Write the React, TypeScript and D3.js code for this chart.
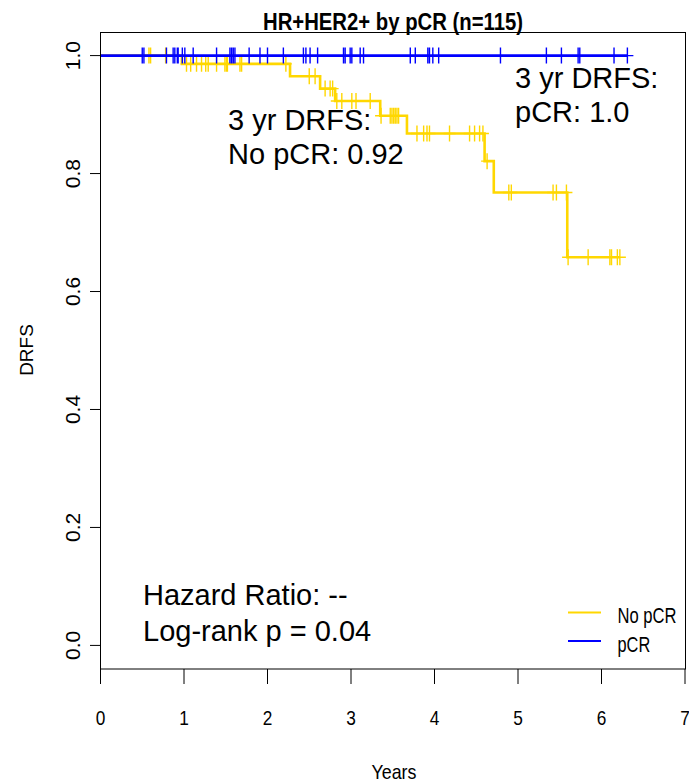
import React from "react";
import * as d3 from "d3";

// ---- data ----
const xTicks = [0, 1, 2, 3, 4, 5, 6, 7];
const yTicks = [0, 0.2, 0.4, 0.6, 0.8, 1.0];
const yTickLabels = ["0.0", "0.2", "0.4", "0.6", "0.8", "1.0"];

// No pCR (yellow) Kaplan-Meier events
const noPcrEventTimes = [0.975, 2.27, 2.63, 2.81, 3.35, 3.67, 4.6, 4.71, 5.59];
const noPcrSurvival = [0.986, 0.965, 0.944, 0.923, 0.898, 0.868, 0.821, 0.768, 0.658];
const noPcrCensorTimes = [
  0.58, 0.6, 0.78,
  1.03, 1.08, 1.15, 1.21, 1.26, 1.29, 1.39, 1.49, 1.51, 1.52, 1.67, 1.69, 2.22,
  2.5, 2.57,
  2.69, 2.75, 2.78,
  2.83, 2.89, 3.01, 3.06, 3.23,
  3.36, 3.47, 3.49, 3.51, 3.53, 3.55, 3.57,
  3.79, 3.87, 3.91, 3.94, 4.18, 4.42, 4.48, 4.54, 4.58,
  4.63,
  4.89, 4.92, 5.42, 5.46, 5.58,
  5.6, 5.84, 6.1, 6.12, 6.19, 6.22,
];

// pCR (blue): no events
const pcrEventTimes: number[] = [];
const pcrSurvival: number[] = [];
const pcrCensorTimes = [
  0.5, 0.52, 0.79, 0.87, 0.89, 0.92, 0.93, 0.98, 1.01, 1.11, 1.39, 1.55, 1.57, 1.59,
  1.61, 1.78, 1.91, 2.0, 2.19, 2.43, 2.46, 2.51, 2.6, 2.91, 2.93, 2.99, 3.01, 3.11,
  3.15, 3.71, 3.77, 3.92, 3.94, 3.98, 4.05, 4.79, 5.34, 5.52, 5.72, 5.74, 6.15, 6.31,
];

const seriesNames = ["No pCR", "pCR"];
const seriesColors = ["#FFD700", "#0000FF"];

const W = 689;
const H = 782;
const NARROW = "'Liberation Sans Narrow', 'Arial Narrow', 'Liberation Sans', Arial, sans-serif";
const SANS = "'Liberation Sans', Arial, Helvetica, sans-serif";

const x = d3.scaleLinear().domain([0, 7]).range([100.5, 685]);
const y = d3.scaleLinear().domain([-0.04, 1.04]).range([669, 32]);

function survAt(t: number, times: number[], surv: number[]) {
  let s = 1;
  for (let i = 0; i < times.length; i++) if (times[i] <= t) s = surv[i];
  return s;
}

function kmPath(times: number[], surv: number[], censors: number[]) {
  const end = Math.max(...censors, ...(times.length ? times : [0]));
  const pts: [number, number][] = [[0, 1]];
  times.forEach((t, i) => pts.push([t, surv[i]]));
  pts.push([end, surv.length ? surv[surv.length - 1] : 1]);
  const line = d3
    .line<[number, number]>()
    .x((d) => x(d[0]))
    .y((d) => y(d[1]))
    .curve(d3.curveStepAfter);
  return line(pts) || "";
}

function plusPath(times: number[], evTimes: number[], surv: number[]) {
  return times
    .map((t) => {
      const px = x(t);
      const py = y(survAt(t, evTimes, surv));
      return `M${px - 6},${py}H${px + 6}M${px},${py - 8}V${py + 8}`;
    })
    .join("");
}

export default function App() {
  const yellow = seriesColors[0];
  const blue = seriesColors[1];
  return (
    <svg
      width={W}
      height={H}
      style={{ position: "absolute", left: 0, top: 0, background: "#fff" }}
      xmlns="http://www.w3.org/2000/svg"
    >
      <rect x={0} y={0} width={W} height={H} fill="#fff" />
      {/* title */}
      <text
        x={393}
        y={29.5}
        textAnchor="middle"
        fontFamily={NARROW}
        fontWeight="bold"
        fontSize={24}
        textLength={260}
        lengthAdjust="spacingAndGlyphs"
        fill="#000"
      >
        HR+HER2+ by pCR (n=115)
      </text>

      {/* curves */}
      <path d={kmPath(noPcrEventTimes, noPcrSurvival, noPcrCensorTimes)} fill="none" stroke={yellow} strokeWidth={2.6} />
      <path d={plusPath(noPcrCensorTimes, noPcrEventTimes, noPcrSurvival)} fill="none" stroke={yellow} strokeWidth={1.4} />
      <path d={kmPath(pcrEventTimes, pcrSurvival, pcrCensorTimes)} fill="none" stroke={blue} strokeWidth={2.6} />
      <path d={plusPath(pcrCensorTimes, pcrEventTimes, pcrSurvival)} fill="none" stroke={blue} strokeWidth={1.4} />

      {/* box */}
      <rect x={100.5} y={32.5} width={585} height={636.5} fill="none" stroke="#000" strokeWidth={1} />

      {/* x axis */}
      {xTicks.map((t) => (
        <g key={"xt" + t}>
          <line x1={x(t)} x2={x(t)} y1={669} y2={684} stroke="#000" strokeWidth={1} />
          <text
            x={x(t)}
            y={724.5}
            textAnchor="middle"
            fontFamily={NARROW}
            fontSize={21}
            textLength={9.6}
            lengthAdjust="spacingAndGlyphs"
            fill="#000"
          >
            {String(t)}
          </text>
        </g>
      ))}
      <text
        x={394}
        y={779}
        textAnchor="middle"
        fontFamily={NARROW}
        fontSize={21}
        textLength={45}
        lengthAdjust="spacingAndGlyphs"
        fill="#000"
      >
        Years
      </text>

      {/* y axis */}
      {yTicks.map((v, i) => (
        <g key={"yt" + v}>
          <line x1={90} x2={100.5} y1={y(v)} y2={y(v)} stroke="#000" strokeWidth={1} />
          <text
            transform={`translate(80,${y(v)}) rotate(-90)`}
            textAnchor="middle"
            fontFamily={SANS}
            fontSize={21}
            fill="#000"
          >
            {yTickLabels[i]}
          </text>
        </g>
      ))}
      <text
        transform={`translate(33,${350}) rotate(-90)`}
        textAnchor="middle"
        fontFamily={SANS}
        fontSize={19}
        fill="#000"
      >
        DRFS
      </text>

      {/* annotations */}
      <g fontFamily={SANS} fontSize={29} fill="#000">
        <text x={228} y={130}>3 yr DRFS:</text>
        <text x={228} y={164}>No pCR: 0.92</text>
        <text x={515} y={88}>3 yr DRFS:</text>
        <text x={515} y={122}>pCR: 1.0</text>
        <text x={143} y={605}>Hazard Ratio: --</text>
        <text x={143} y={641}>Log-rank p = 0.04</text>
      </g>

      {/* legend */}
      {seriesNames.map((name, i) => (
        <g key={name}>
          <line x1={568} x2={601} y1={612.5 + i * 28.5} y2={612.5 + i * 28.5} stroke={seriesColors[i]} strokeWidth={2} />
          <text
            x={617.5}
            y={622.5 + i * 29}
            fontFamily={NARROW}
            fontSize={22}
            textLength={i === 0 ? 59 : 32.7}
            lengthAdjust="spacingAndGlyphs"
            fill="#000"
          >
            {name}
          </text>
        </g>
      ))}
    </svg>
  );
}
